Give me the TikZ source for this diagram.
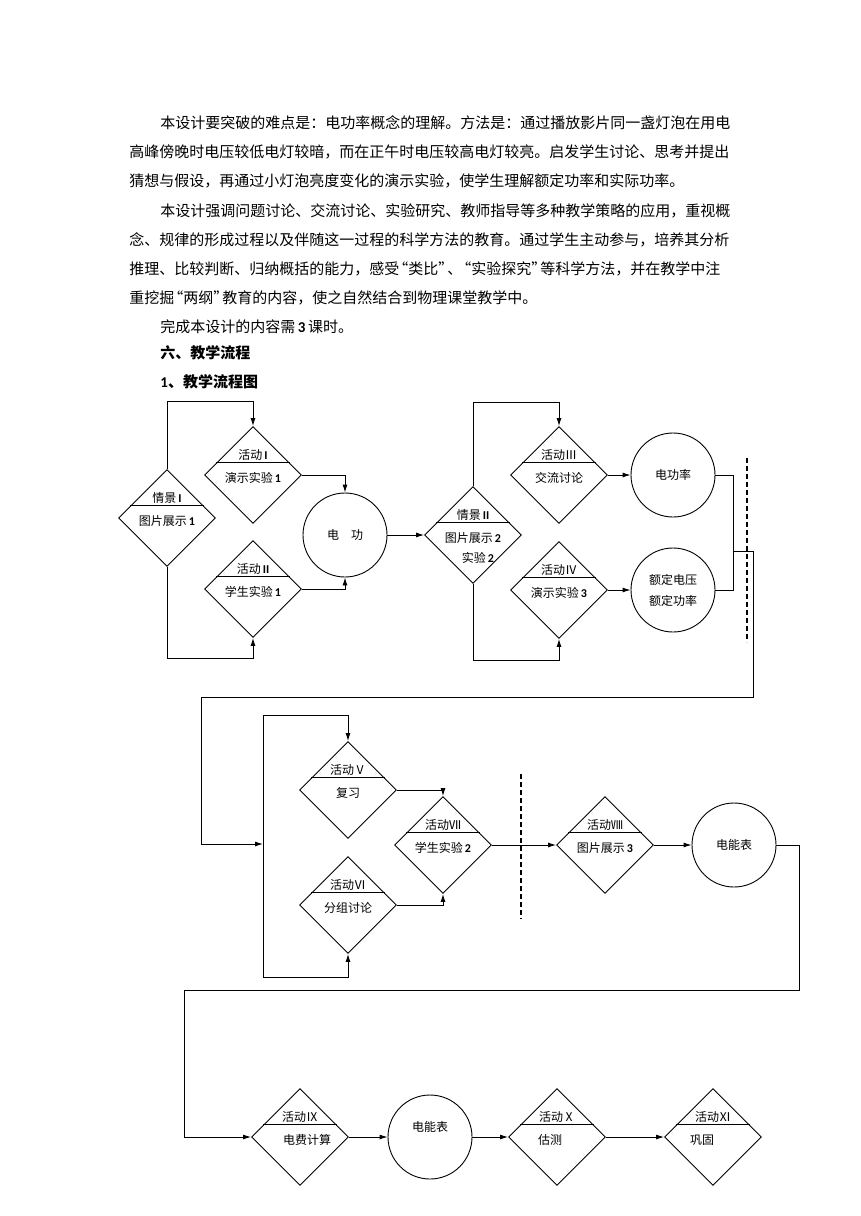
\documentclass[tikz,border=0pt]{standalone}
\usepackage{fontspec}
\setmainfont{Noto Sans CJK SC}
\newfontfamily\calib{Carlito}
\usepackage{tikz}
\usetikzlibrary{arrows.meta,shapes.geometric,calc}

\newcommand\bnum[1]{{\calib\bfseries #1}}
\newcommand\qo{\makebox[9pt][r]{“}}
\newcommand\qc{\makebox[9pt][l]{”}}
\newcommand\flowdia[5][0]{%
  \node[dia] (#2) at (#3) {};
  \draw ($(#2.north)!.75!(#2.west)$) -- ($(#2.north)!.75!(#2.east)$);
  \node (#2-t) at ($(#2)+(0,-20)$) {#4};
  \node (#2-s) at ($(#2)+(#1,3)$) {#5};
}

\begin{document}
\begin{tikzpicture}[x=1pt, y=-1pt, line width=0.9pt,
    every node/.style={font=\fontsize{12pt}{14pt}\selectfont},
    dia/.style={diamond, draw, minimum width=97pt, minimum height=97pt, inner sep=0pt},
    ring/.style={circle, draw, minimum size=84pt, inner sep=0pt},
    arr/.style={-{Latex[length=8pt,width=5pt]}},
    para/.style={anchor=west, inner sep=0pt, font=\fontsize{15pt}{18pt}\selectfont}]
  \useasboundingbox (0,0) rectangle (860,1216);

  \node[para] (t1) at (160,123) {本设计要突破的难点是：电功率概念的理解。方法是：通过播放影片同一盏灯泡在用电};
  \node[para] (t2) at (129,152) {高峰傍晚时电压较低电灯较暗，而在正午时电压较高电灯较亮。启发学生讨论、思考并提出};
  \node[para] (t3) at (129,181) {猜想与假设，再通过小灯泡亮度变化的演示实验，使学生理解额定功率和实际功率。};
  \node[para] (t4) at (160,211) {本设计强调问题讨论、交流讨论、实验研究、教师指导等多种教学策略的应用，重视概};
  \node[para] (t5) at (129,240) {念、规律的形成过程以及伴随这一过程的科学方法的教育。通过学生主动参与，培养其分析};
  \node[para] (t6) at (129,269) {推理、比较判断、归纳概括的能力，感受\qo 类比\qc 、\qo 实验探究\qc 等科学方法，并在教学中注};
  \node[para] (t7) at (129,298) {重挖掘\qo 两纲\qc 教育的内容，使之自然结合到物理课堂教学中。};
  \node[para] (t8) at (160,327) {完成本设计的内容需\,\bnum{3}\,课时。};
  \node[para] (t9) at (160,353) {\bfseries 六、教学流程};
  \node[para] (t10) at (160,382) {\bfseries \bnum{1}、教学流程图};

  \flowdia{s1}{167,518}{情景\,\bnum{I}}{图片展示\,\bnum{1}}
  \flowdia{a1}{253,475}{活动\,\bnum{I}}{演示实验\,\bnum{1}}
  \flowdia{a2}{253,589}{活动\,\bnum{II}}{学生实验\,\bnum{1}}
  \node[ring] (w) at (345,535) {电\quad 功};
  \flowdia{s2}{473,535}{情景\,\bnum{II}}{图片展示\,\bnum{2}}
  \node (s2-x) at ($(s2)+(5,23)$) {实验\,\bnum{2}};
  \flowdia{a3}{559,475}{活动Ⅲ}{交流讨论}
  \flowdia{a4}{559,590}{活动Ⅳ}{演示实验\,\bnum{3}}
  \node[ring] (p) at (673,475) {电功率};
  \node[ring, align=center, font=\fontsize{12pt}{21pt}\selectfont] (r) at (673,590) {额定电压\\额定功率};

  \flowdia{a5}{348,790}{活动Ⅴ}{复习}
  \flowdia{a6}{348,905}{活动Ⅵ}{分组讨论}
  \flowdia{a7}{443,845}{活动Ⅶ}{学生实验\,\bnum{2}}
  \flowdia{a8}{605,845}{活动Ⅷ}{图片展示\,\bnum{3}}
  \node[ring] (m1) at (734,845) {电能表};

  \flowdia[7]{a9}{300,1137}{活动Ⅸ}{电费计算}
  \node[ring] (m2) at (430,1137) {};
  \node (m2-t) at ($(m2)+(0,-10)$) {电能表};
  \flowdia[-7]{a10}{557,1137}{活动Ⅹ}{估测}
  \flowdia[-11]{a11}{713,1137}{活动Ⅺ}{巩固}

  \draw[arr] (s1.north) -- ++(0,-68) -| (a1.north);
  \draw[arr] (s1.south) -- ++(0,91) -| (a2.south);
  \draw[arr] (a1.east) -| (w.north);
  \draw[arr] (a2.east) -| (w.south);
  \draw[arr] (w.east) -- (s2.west);
  \draw[arr] (s2.north) -- ++(0,-84) -| (a3.north);
  \draw[arr] (s2.south) -- ++(0,76) -| (a4.south);
  \draw[arr] (a3.east) -- (p.west);
  \draw[arr] (a4.east) -- (r.west);

  \coordinate (j) at (733,551);
  \coordinate (j2) at (753,551);
  \coordinate (j3) at (753,697);
  \coordinate (j4) at (201,697);
  \coordinate (k) at (263,844);
  \draw (p.east) -| (j);
  \draw (r.east) -| (j);
  \draw[arr] (j) -- (j2) -- (j3) -- (j4) |- (k);
  \draw[arr] (k) |- ($(a5.north)+(0,-26)$) -- (a5.north);
  \draw[arr] (k) |- ($(a6.south)+(0,23)$) -- (a6.south);
  \draw[arr] (a5.east) -| (a7.north);
  \draw[arr] (a6.east) -| (a7.south);
  \draw[arr] (a7.east) -- (a8.west);
  \draw[arr] (a8.east) -- (m1.west);

  \coordinate (c2) at (799,990);
  \coordinate (c3) at (184,990);
  \draw[arr] (m1.east) -| (c2) -- (c3) |- (a9.west);
  \draw[arr] (a9.east) -- (m2.west);
  \draw[arr] (m2.east) -- (a10.west);
  \draw[arr] (a10.east) -- (a11.west);

  \coordinate (d1) at (747,458);
  \coordinate (d2) at (747,642);
  \coordinate (d3) at (521,774);
  \coordinate (d4) at (521,919);
  \draw[dash pattern=on 5pt off 3pt, line width=1.4pt] (d1) -- (d2) (d3) -- (d4);
\end{tikzpicture}
\end{document}
